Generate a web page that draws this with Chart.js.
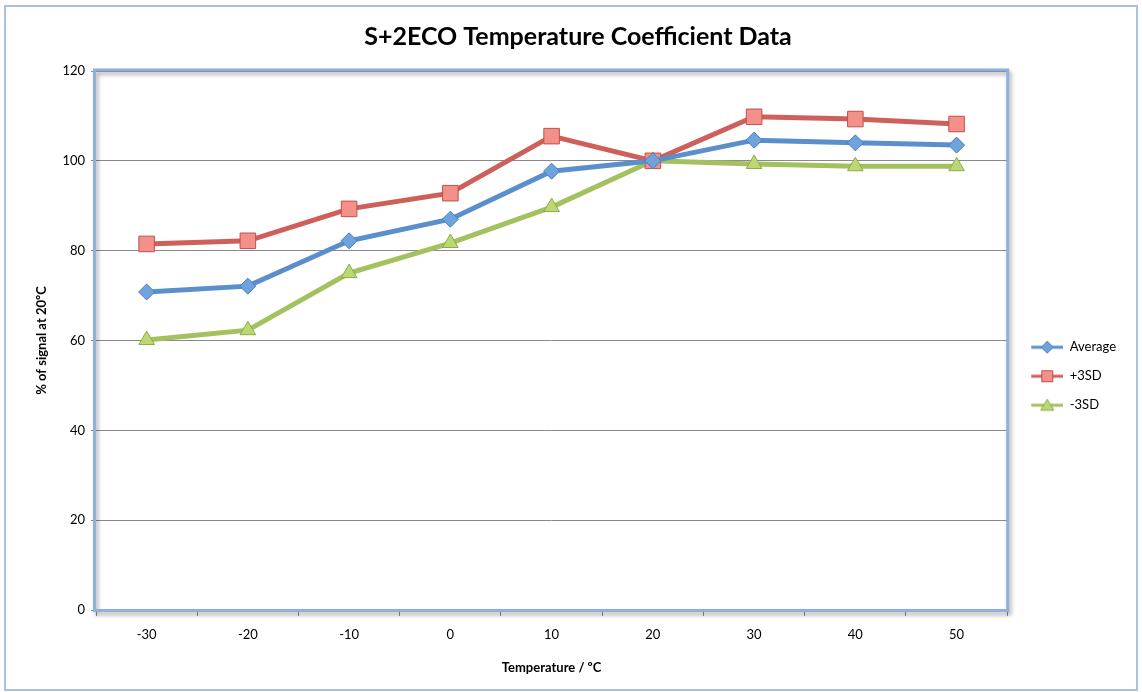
<!DOCTYPE html>
<html>
<head>
<meta charset="utf-8">
<title>S+2ECO Temperature Coefficient Data</title>
<script src="https://cdn.jsdelivr.net/npm/chart.js@4/dist/chart.umd.min.js"></script>
<style>
  html, body { margin: 0; padding: 0; background: #fff; }
  #wrap { width: 1142px; height: 692px; position: relative; }
</style>
</head>
<body>
<div id="wrap"><canvas id="chart" width="1142" height="692"></canvas></div>
<script>
// ---- data ----
const temperatures = ['-30', '-20', '-10', '0', '10', '20', '30', '40', '50'];
const average   = [70.8, 72.1, 82.2, 87.0, 97.7, 100, 104.6, 104.0, 103.5];
const plus3SD   = [81.5, 82.2, 89.3, 92.8, 105.5, 100, 109.8, 109.3, 108.2];
const minus3SD  = [60.1, 62.3, 75.0, 81.7, 89.7, 100, 99.3, 98.8, 98.8];
const yTicks    = [0, 20, 40, 60, 80, 100, 120];

const FONT = 'Lato, "Open Sans", sans-serif';

const series = [
  { label: 'Average', data: average,  line: '#5a8fcb', fill: '#6fa3de', edge: '#4a7dba', shape: 'rectRot',  r: 8 },
  { label: '+3SD',    data: plus3SD,  line: '#cf5f5a', fill: '#f3908a', edge: '#c0504d', shape: 'rect',     r: 11 },
  { label: '-3SD',    data: minus3SD, line: '#a3c15f', fill: '#bcd874', edge: '#8cab4a', shape: 'triangle', r: 9 }
];

// small line+marker images for the legend (8px blank on the left)
function legendIcon(s) {
  const c = document.createElement('canvas');
  c.width = 40; c.height = 16;
  const g = c.getContext('2d');
  g.translate(8, 0);
  g.strokeStyle = s.line; g.lineWidth = 3;
  g.beginPath(); g.moveTo(0, 8); g.lineTo(32, 8); g.stroke();
  g.fillStyle = s.fill; g.strokeStyle = s.edge; g.lineWidth = 1;
  g.beginPath();
  if (s.shape === 'rectRot') { g.moveTo(16, 2); g.lineTo(22, 8); g.lineTo(16, 14); g.lineTo(10, 8); g.closePath(); }
  else if (s.shape === 'rect') { g.rect(10.5, 2.5, 11, 11); }
  else { g.moveTo(16, 2); g.lineTo(22.5, 13); g.lineTo(9.5, 13); g.closePath(); }
  g.fill(); g.stroke();
  return c;
}
const icons = series.map(legendIcon);

// outer frame + plot-area frame like the spreadsheet export
const framePlugin = {
  id: 'frames',
  beforeDraw(chart) {
    const ctx = chart.ctx;
    ctx.save();
    ctx.fillStyle = '#fff';
    ctx.fillRect(0, 0, chart.width, chart.height);
    ctx.strokeStyle = '#a9c1e0';
    ctx.lineWidth = 2;
    ctx.strokeRect(5, 6, chart.width - 10, chart.height - 8);
    ctx.restore();
  },
  beforeDatasetsDraw(chart) {
    const a = chart.chartArea, ctx = chart.ctx;
    ctx.save();
    ctx.shadowColor = 'rgba(0,0,0,0.35)';
    ctx.shadowBlur = 4;
    ctx.shadowOffsetX = 2;
    ctx.shadowOffsetY = 3;
    ctx.strokeStyle = '#8fb0d8';
    ctx.lineWidth = 3;
    ctx.strokeRect(a.left - 1.5, a.top - 1, a.right - a.left + 2, a.bottom - a.top + 1.5);
    ctx.restore();
  }
};

new Chart(document.getElementById('chart'), {
  type: 'line',
  data: {
    labels: temperatures,
    datasets: series.map(s => ({
      label: s.label,
      data: s.data,
      borderColor: s.line,
      backgroundColor: s.fill,
      borderWidth: 5,
      pointStyle: s.shape,
      pointRadius: s.r,
      pointBackgroundColor: s.fill,
      pointBorderColor: s.edge,
      pointBorderWidth: 1,
      tension: 0,
      fill: false
    }))
  },
  options: {
    responsive: false,
    animation: false,
    layout: { padding: { top: 8, left: 30, right: 16, bottom: 12 } },
    plugins: {
      title: {
        display: true,
        text: 'S+2ECO Temperature Coefficient Data',
        color: '#000',
        font: { family: FONT, size: 25, weight: 'bold' },
        padding: { top: 14, bottom: 19 }
      },
      legend: {
        position: 'right',
        labels: {
          usePointStyle: true,
          pointStyleWidth: 40,
          padding: 16,
          color: '#000',
          font: { family: FONT, size: 13 },
          generateLabels(chart) {
            const items = Chart.defaults.plugins.legend.labels.generateLabels(chart);
            items.forEach((it, i) => { it.pointStyle = icons[i]; });
            return items;
          }
        },
        title: { display: true, text: ' ', padding: { top: 20, bottom: 30 }, font: { size: 12 } }
      },
      tooltip: { enabled: false }
    },
    scales: {
      x: {
        offset: true,
        grid: { display: true, drawOnChartArea: false, offset: true, tickLength: 6, color: '#8a8a8a' },
        border: { display: false },
        ticks: { color: '#000', padding: 11, font: { family: FONT, size: 13 } },
        title: { display: true, text: 'Temperature / ºC', color: '#000', font: { family: FONT, size: 13, weight: 'bold' }, padding: { top: 10 } },
        afterFit(scale) { scale.height = 70; }
      },
      y: {
        min: 0,
        max: 120,
        afterBuildTicks(scale) { scale.ticks = yTicks.map(v => ({ value: v })); },
        grid: { color: '#8a8a8a', tickLength: 5, lineWidth: 1 },
        border: { display: false },
        ticks: { color: '#000', padding: 6, font: { family: FONT, size: 13 } },
        title: { display: true, text: '% of signal at 20ºC', color: '#000', font: { family: FONT, size: 13, weight: 'bold' }, padding: { bottom: 12 } },
        afterFit(scale) { scale.width = 66; }
      }
    }
  },
  plugins: [framePlugin]
});
</script>
</body>
</html>
